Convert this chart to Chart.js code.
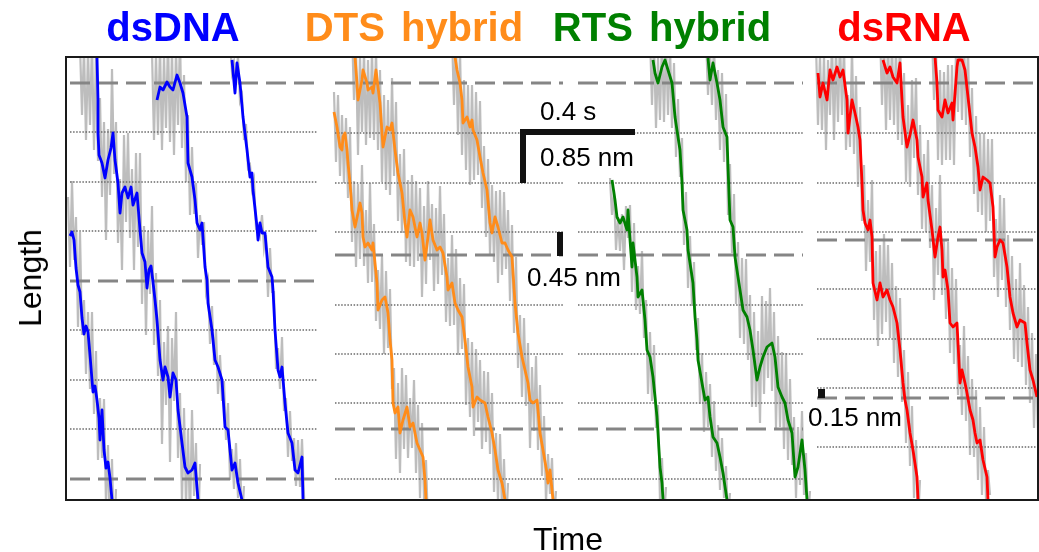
<!DOCTYPE html>
<html>
<head>
<meta charset="utf-8">
<title>Step traces</title>
<script src="https://cdn.jsdelivr.net/npm/chart.js@4.4.1/dist/chart.umd.min.js"></script>
<style>
  html, body { margin: 0; padding: 0; background: #fff; }
  #wrap { position: relative; width: 1039px; height: 552px; overflow: hidden;
          font-family: "Liberation Sans", Arial, sans-serif; }
  #chart { position: absolute; left: 0; top: 0; }
  .lbl { position: absolute; white-space: nowrap; color: #000; }
  .panel-title { font-weight: bold; font-size: 40px; line-height: 40px; top: 7px; word-spacing: 5px; transform: translateX(-50%); }
  .bar-label { font-size: 26px; line-height: 26px; }
  .axis-title { font-size: 32px; line-height: 32px; }
</style>
</head>
<body>
<div id="wrap">
  <canvas id="chart" width="1039" height="552"></canvas>
  <div class="lbl axis-title" style="left:568px;top:523px;transform:translateX(-50%)">Time</div>
  <div class="lbl axis-title" style="left:30px;top:278px;transform:translate(-50%,-50%) rotate(-90deg)">Length</div>
</div>
<script>
// time axis: 0..972 samples, length axis: 0..443 (arb. units)
var RAW_STEP = 2;

var panelNames = ['dsDNA', 'DTS hybrid', 'RTS hybrid', 'dsRNA'];
var panelSpans = [[4, 251], [269, 497], [512, 737], [751, 971]];
var dashedLevels = [[417, 219, 21], [417, 245, 71], [417, 245, 71], [417, 260, 102]];
var dottedLevels = [
  [368, 318, 269, 170, 120, 71],
  [367, 317, 268, 195, 146, 97, 21],
  [367, 317, 268, 195, 146, 97, 21],
  [367, 317, 268, 211, 161, 112, 53]
];

// smoothed traces [time, length]
var dsDna1 = [[4,264],[6,268],[8,260],[10,232],[12,215],[14,208],[16,182],[18,166],[20,174],[22,168],[24,145],[26,120],[27,108],[29,114],[31,100],[33,82],[34,60],[36,90],[38,50],[40,32],[42,38],[44,22],[46,0]];
var dsDna2 = [[31,443],[32,400],[32,367],[33,345],[36,337],[39,322],[42,340],[45,352],[47,367],[49,340],[52,317],[54,287],[56,307],[59,313],[62,302],[65,313],[67,295],[71,307],[74,270],[76,247],[79,238],[81,212],[83,230],[85,234],[87,218],[89,200],[91,180],[94,140],[97,120],[99,133],[102,123],[104,103],[107,127],[110,120],[112,90],[116,57],[119,33],[122,27],[126,30],[129,37],[132,0]];
var dsDna3 = [[91,400],[94,413],[97,410],[101,418],[104,413],[107,410],[111,425],[114,417],[117,407],[121,383],[122,337],[126,323],[129,300],[131,277],[134,270],[136,277],[139,233],[141,220],[142,197],[146,170],[149,140],[152,133],[156,120],[159,73],[162,70],[166,30],[169,37],[172,17],[176,0]];
var dsDna4 = [[166,440],[169,407],[171,437],[174,417],[177,383],[181,350],[184,323],[186,327],[187,310],[191,273],[192,260],[194,277],[196,267],[199,267],[202,233],[206,223],[207,210],[209,170],[212,130],[214,123],[216,133],[219,97],[222,67],[226,57],[229,30],[232,27],[236,43],[237,0]];

var dts1 = [[268,388],[271,373],[274,353],[276,350],[277,363],[279,367],[281,350],[282,337],[284,317],[286,290],[289,273],[292,287],[294,297],[296,287],[297,263],[299,253],[302,257],[306,250],[307,257],[311,217],[312,190],[316,200],[319,203],[322,187],[324,160],[326,140],[327,97],[329,87],[332,93],[334,67],[337,80],[341,93],[344,73],[347,77],[351,57],[354,50],[357,43],[359,20],[360,0]];
var dts2 = [[289,443],[291,417],[292,400],[296,420],[297,430],[301,417],[302,410],[306,413],[307,407],[310,430],[312,413],[314,397],[316,367],[317,353],[321,373],[324,370],[326,377],[329,350],[332,327],[336,307],[339,277],[341,263],[344,290],[347,283],[351,263],[354,277],[356,267],[359,240],[362,263],[364,280],[367,260],[371,250],[374,253],[377,247],[381,223],[382,210],[386,217],[389,197],[392,190],[396,183],[399,160],[402,133],[406,113],[407,93],[411,103],[414,100],[419,97],[422,83],[426,67],[429,50],[432,30],[436,17],[439,0]];
var dts3 = [[389,443],[391,430],[394,417],[396,400],[397,377],[401,383],[404,373],[406,380],[407,370],[411,360],[414,343],[417,327],[421,310],[424,277],[426,267],[429,283],[432,273],[436,257],[439,257],[442,250],[446,243],[449,197],[452,167],[456,143],[459,130],[462,117],[464,100],[467,97],[471,100],[472,90],[474,67],[477,50],[481,27],[482,17],[484,30],[487,0]];

var rts1 = [[546,320],[549,300],[551,283],[554,277],[557,283],[561,270],[562,290],[564,260],[566,233],[567,257],[571,223],[572,203],[576,210],[579,180],[581,150],[584,143],[587,123],[591,83],[592,67],[594,33],[596,17],[597,0]];
var rts2 = [[587,440],[589,427],[592,417],[596,433],[599,440],[602,430],[606,417],[609,383],[612,363],[614,350],[616,317],[617,290],[621,270],[622,250],[624,237],[627,217],[629,183],[631,160],[632,140],[636,117],[639,100],[642,103],[644,83],[647,63],[651,57],[654,43],[657,27],[661,0]];
var rts3 = [[642,442],[644,420],[647,437],[651,417],[654,400],[657,373],[661,363],[662,333],[664,280],[667,273],[669,243],[672,223],[674,210],[677,190],[681,183],[684,170],[687,150],[691,120],[694,133],[697,143],[701,153],[706,157],[709,143],[712,113],[716,103],[719,97],[722,80],[726,67],[729,23],[732,33],[736,60],[739,30],[741,0]];

var rna1 = [[752,427],[754,403],[757,417],[761,400],[764,430],[767,420],[771,433],[774,423],[777,430],[781,400],[782,367],[786,400],[789,387],[792,373],[794,360],[796,317],[797,290],[799,277],[802,270],[804,280],[806,263],[807,217],[811,200],[814,217],[817,203],[821,210],[824,200],[827,193],[831,177],[834,150],[837,117],[839,100],[841,90],[844,67],[847,50],[851,23],[852,0]];
var rna2 = [[817,440],[821,427],[824,433],[827,423],[831,417],[834,437],[836,400],[837,383],[841,353],[844,365],[847,380],[851,360],[852,343],[856,323],[857,303],[861,317],[862,300],[866,270],[869,243],[872,263],[874,273],[876,250],[877,223],[879,230],[882,210],[884,177],[887,173],[891,177],[894,117],[896,130],[899,117],[901,107],[904,90],[907,80],[909,67],[911,57],[914,60],[917,40],[921,23],[922,0]];
var rna3 = [[869,443],[871,417],[872,390],[876,383],[879,400],[882,387],[886,397],[887,380],[891,433],[892,440],[896,440],[899,430],[902,403],[906,367],[909,353],[912,333],[914,310],[917,323],[921,320],[924,317],[927,293],[929,243],[931,253],[934,260],[937,257],[941,233],[944,203],[947,187],[951,173],[954,180],[959,177],[961,157],[964,130],[967,120],[971,103]];

// raw traces: lengths sampled every RAW_STEP from the given start time
var dsDna1Raw = [303,233,319,240,283,173,268,165,200,126,188,111,188,86,149,40,102,42,101,-5,55,-38,41,-45,11];
var dsDna2Raw = [455,385,452,360,450,375,458,350,448,339,402,303,378,260,371,305,431,326,378,257,321,230,365,278,367,262,331,230,347,253,347,196,274,165,269,206,294,155,227,124,200,56,158,95,174,38,162,99,188,42,107,-3,92,-7,71,-23,90,4,57,-43,36];
var dsDna3Raw = [448,360,446,365,455,350,445,372,460,358,450,345,452,375,462,352,425,318,385,285,353,286,317,242,285,255,278,209,219,156,194,135,171,106,145,99,119,60,97,20,51,11,57,2,41,-21,14];
var dsDna4Raw = [460,428,438,415,444,399,405,360,376,332,335,311,320,272,274,265,285,252,265,203,252,208,208,131,152,111,163,89,102,43,89,39,62,14,60,13,61,5,-28];
var dts1Raw = [408,338,405,324,385,317,382,302,373,258,319,233,316,241,335,234,290,217,317,218,276,179,230,171,245,146,229,152,211,111,132,41,117,27,132,51,125,42,102,52,120,27,95,2,77,1,40,-26];
var dts2Raw = [470,400,452,345,445,368,450,355,440,362,450,360,452,350,430,318,405,310,400,305,422,324,398,279,346,267,351,238,320,234,325,233,319,239,312,203,294,216,319,240,296,209,292,216,314,225,286,178,242,174,265,175,251,145,222,151,216,95,162,83,158,64,151,78,140,51,129,58,128,46,107,8,67,-2,66,-12,41,-29,17];
var dts3Raw = [465,395,461,365,450,345,420,330,415,315,415,320,408,325,399,292,354,263,341,245,315,238,309,217,310,225,308,231,290,199,275,167,243,132,185,103,182,94,157,52,133,69,144,50,115,24,84,-2,46,6,42,-21,9];
var rts1Raw = [322,285,310,250,283,249,286,230,294,262,295,208,277,190,234,186,249,162,200,106,168,99,155,72,95,-2,42,-19,13];
var rts2Raw = [465,395,458,372,442,380,463,378,460,385,454,372,437,343,401,323,362,255,308,212,264,194,238,150,182,96,147,68,128,73,116,43,99,29,75,10,62,2,34,-20,7];
var rts3Raw = [465,405,450,395,457,380,430,350,427,338,406,285,336,247,306,196,258,162,242,156,241,140,205,93,188,93,169,77,204,106,199,122,212,109,188,72,164,73,148,51,147,40,121,35,83,2,73,15,89,5,47,-21,9];
var rna1Raw = [455,375,445,370,445,350,440,385,458,360,452,378,461,385,455,350,405,353,452,346,424,313,393,279,335,229,300,238,320,180,249,154,255,166,266,178,255,162,237,137,214,123,202,98,150,57,128,34,94,2,60,-22,20];
var rna2Raw = [470,395,460,370,459,380,457,375,454,360,467,355,427,318,395,313,420,342,422,305,375,271,346,268,360,252,315,200,292,225,325,205,260,181,258,147,232,136,221,105,155,85,174,79,144,45,121,43,110,20,93,5,73,0,30,5];
var rna3Raw = [465,400,455,340,430,335,428,340,435,340,435,335,452,388,462,380,463,375,455,343,412,306,384,288,367,285,367,268,361,279,361,223,281,203,305,220,302,193,265,170,244,141,221,138,237,133,215,115,193,97,167,72,146,70];

// scale bars [time, length]
var barSecondsNm = [[569, 368], [457, 368], [457, 317]];   // 0.4 s / 0.85 nm
var barHybrid = [[494, 268], [494, 244]];                  // 0.45 nm
var barRna = [[755.5, 111], [755.5, 102]];                 // 0.15 nm
var barLabels = ['0.4 s', '0.85 nm', '0.45 nm', '0.15 nm'];

var PANEL_COLORS = ['#0000ff', '#ff8c1a', '#008000', '#ff0000'];
var TITLE_X = [173, 414, 662, 904];
var BAR_LABEL_POS = [[540, 98], [540, 144], [527, 264], [808, 404]];

var traces = [
  { panel: 0, fit: dsDna1, raw: dsDna1Raw, t0: 2 },
  { panel: 0, fit: dsDna2, raw: dsDna2Raw, t0: 14 },
  { panel: 0, fit: dsDna3, raw: dsDna3Raw, t0: 86 },
  { panel: 0, fit: dsDna4, raw: dsDna4Raw, t0: 164 },
  { panel: 1, fit: dts1, raw: dts1Raw, t0: 268 },
  { panel: 1, fit: dts2, raw: dts2Raw, t0: 286 },
  { panel: 1, fit: dts3, raw: dts3Raw, t0: 386 },
  { panel: 2, fit: rts1, raw: rts1Raw, t0: 544 },
  { panel: 2, fit: rts2, raw: rts2Raw, t0: 584 },
  { panel: 2, fit: rts3, raw: rts3Raw, t0: 640 },
  { panel: 3, fit: rna1, raw: rna1Raw, t0: 750 },
  { panel: 3, fit: rna2, raw: rna2Raw, t0: 814 },
  { panel: 3, fit: rna3, raw: rna3Raw, t0: 866 }
];

function pts(pairs) {
  return pairs.map(function(p) { return { x: p[0], y: p[1] }; });
}

function rawPts(t0, ys) {
  return ys.map(function(y, i) { return { x: t0 + i * RAW_STEP, y: y }; });
}

var datasets = [];

// raw data, behind everything
traces.forEach(function(t) {
  datasets.push({
    data: rawPts(t.t0, t.raw),
    borderColor: '#bdbdbd',
    borderWidth: 2.2,
    borderJoinStyle: 'miter',
    order: 3
  });
});

// reference levels per panel
panelSpans.forEach(function(span, p) {
  dashedLevels[p].forEach(function(lvl) {
    datasets.push({
      data: [{ x: span[0], y: lvl }, { x: span[1], y: lvl }],
      borderColor: '#858585',
      borderWidth: 3,
      borderDash: [20, 8],
      borderCapStyle: 'butt',
      order: 2
    });
  });
  dottedLevels[p].forEach(function(lvl) {
    datasets.push({
      data: [{ x: span[0], y: lvl }, { x: span[1], y: lvl }],
      borderColor: '#6a6a6a',
      borderWidth: 1.3,
      borderDash: [1.5, 1.6],
      order: 2
    });
  });
});

// smoothed traces
traces.forEach(function(t) {
  datasets.push({
    data: pts(t.fit),
    borderColor: PANEL_COLORS[t.panel],
    borderWidth: 2.8,
    borderJoinStyle: 'round',
    order: 1
  });
});

// scale bars
[barSecondsNm, barHybrid, barRna].forEach(function(bar, i) {
  datasets.push({
    data: pts(bar),
    borderColor: '#111111',
    borderWidth: i === 2 ? 7 : 6,
    borderCapStyle: 'butt',
    borderJoinStyle: 'miter',
    order: 0
  });
});

var framePlugin = {
  id: 'frame',
  afterDatasetsDraw: function(chart) {
    var a = chart.chartArea;
    var ctx = chart.ctx;
    ctx.save();
    ctx.strokeStyle = '#1a1a1a';
    ctx.lineWidth = 2;
    ctx.strokeRect(a.left, a.top, a.right - a.left, a.bottom - a.top);
    ctx.restore();
  }
};

new Chart(document.getElementById('chart'), {
  type: 'line',
  data: { datasets: datasets },
  options: {
    responsive: false,
    animation: false,
    events: [],
    layout: { padding: { left: 66, top: 57, right: 1, bottom: 52 } },
    scales: {
      x: { type: 'linear', min: 0, max: 972, display: false },
      y: { type: 'linear', min: 0, max: 443, display: false }
    },
    elements: { point: { radius: 0 }, line: { tension: 0 } },
    plugins: { legend: { display: false }, tooltip: { enabled: false } }
  },
  plugins: [framePlugin]
});

// panel titles and scale bar labels
var wrap = document.getElementById('wrap');
panelNames.forEach(function(name, i) {
  var el = document.createElement('div');
  el.className = 'lbl panel-title';
  el.style.left = TITLE_X[i] + 'px';
  el.style.color = PANEL_COLORS[i];
  el.textContent = name;
  wrap.appendChild(el);
});
barLabels.forEach(function(text, i) {
  var el = document.createElement('div');
  el.className = 'lbl bar-label';
  el.style.left = BAR_LABEL_POS[i][0] + 'px';
  el.style.top = BAR_LABEL_POS[i][1] + 'px';
  el.textContent = text;
  wrap.appendChild(el);
});
</script>
</body>
</html>
